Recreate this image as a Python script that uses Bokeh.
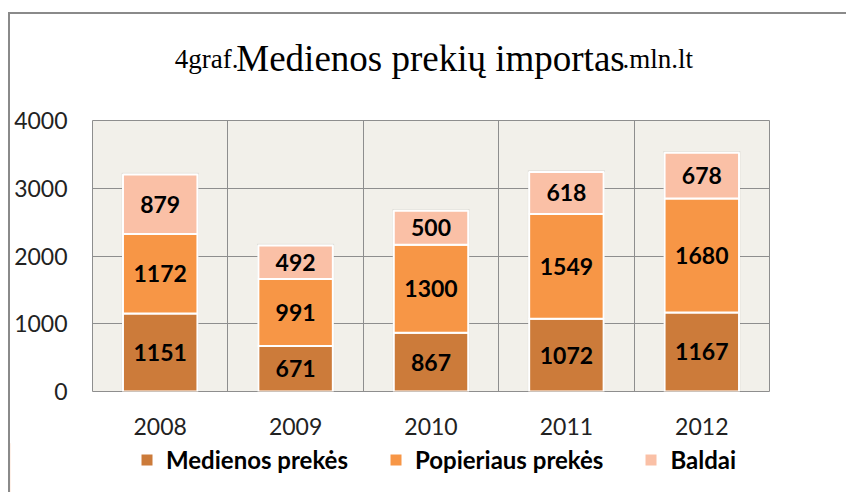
import numpy as np
from bokeh.plotting import figure
from bokeh.models import (ColumnDataSource, Range1d, FixedTicker, Legend, LegendItem)
from bokeh.core.properties import value
from bokeh.embed import file_html
from bokeh.resources import INLINE

# ---- data ----
years = ["2008", "2009", "2010", "2011", "2012"]
medienos = [1151, 671, 867, 1072, 1167]
popieriaus = [1172, 991, 1300, 1549, 1680]
baldai = [879, 492, 500, 618, 678]
series_names = ["Medienos prekės", "Popieriaus prekės", "Baldai"]
y_ticks = [0, 1000, 2000, 3000, 4000]
title_parts = ["4graf.", "Medienos prekių importas", ".mln.lt"]

colors = ["#CC7B3A", "#F79646", "#FAC0A6"]
FONT = "Lato"
TFONT = "Liberation Serif"
W = 838
BORDER = "2px solid #8A8A8A"


def bare(fig):
    fig.xgrid.visible = False
    fig.ygrid.visible = False
    return fig


# ---- title strip ----
TH = 92
tf = bare(figure(width=W, height=TH, x_range=Range1d(0, W), y_range=Range1d(TH, 0),
                 output_backend="svg", toolbar_location=None,
                 x_axis_type=None, y_axis_type=None, min_border=0,
                 outline_line_color=None, background_fill_color="white",
                 border_fill_color="white"))
tf.styles = {"margin-top": "12px", "margin-left": "8px",
             "border-top": BORDER, "border-left": BORDER}
big_c, big_w, base_y = 420, 384, 44
tf.text(x=[big_c], y=[base_y], text=[title_parts[1]], text_align=value("center"),
        text_baseline=value("alphabetic"), text_font=value(TFONT),
        text_font_size=value("37px"), text_color="#000000")
tf.text(x=[big_c - big_w / 2], y=[base_y], text=[title_parts[0]],
        text_align=value("right"), text_baseline=value("alphabetic"),
        text_font=value(TFONT), text_font_size=value("27px"), text_color="#000000")
tf.text(x=[big_c + big_w / 2], y=[base_y], text=[title_parts[2]],
        text_align=value("left"), text_baseline=value("alphabetic"),
        text_font=value(TFONT), text_font_size=value("27px"), text_color="#000000")

# ---- main chart ----
x = list(range(len(years)))
src = ColumnDataSource(dict(x=x, m=medienos, pp=popieriaus, b=baldai))

PH = 339
p = figure(width=W, height=PH,
           x_range=Range1d(-0.5, len(years) - 0.5),
           y_range=Range1d(y_ticks[0], y_ticks[-1]),
           output_backend="svg", toolbar_location=None,
           min_border_left=82, min_border_right=79,
           min_border_top=16, min_border_bottom=52,
           background_fill_color="#F2F0EA", border_fill_color="white",
           outline_line_color="#8E8E8E", outline_line_width=1)
p.styles = {"margin-left": "8px", "border-left": BORDER}

p.xaxis.ticker = FixedTicker(ticks=x)
p.xaxis.major_label_overrides = {i: y for i, y in enumerate(years)}
p.yaxis.ticker = FixedTicker(ticks=y_ticks)
for ax in (p.xaxis, p.yaxis):
    ax.axis_line_color = None
    ax.major_tick_line_color = None
    ax.minor_tick_line_color = None
    ax.major_tick_out = 0
    ax.major_tick_in = 0
    ax.major_label_text_font = FONT
    ax.major_label_text_font_size = "23px"
    ax.major_label_text_color = "#222222"
p.xaxis.major_label_standoff = 26
p.yaxis.major_label_standoff = 25

p.xgrid.ticker = FixedTicker(ticks=[i + 0.5 for i in x[:-1]])
p.xgrid.grid_line_color = "#8E8E8E"
p.ygrid.grid_line_color = "#8E8E8E"

# soft shadow behind bars
totals = np.array(medienos) + np.array(popieriaus) + np.array(baldai)
sh = ColumnDataSource(dict(x=x, top=totals + 25))
p.vbar(x="x", top="top", bottom=0, width=0.57, source=sh,
       fill_color="#000000", fill_alpha=0.07, line_color=None)

rs = p.vbar_stack(["m", "pp", "b"], x="x", width=0.55, source=src,
                  fill_color=colors, line_color="white", line_width=2)

m = np.array(medienos); pp = np.array(popieriaus); b = np.array(baldai)
lx, ly, lt = [], [], []
base = np.zeros(len(x))
for vals in (m, pp, b):
    for i in range(len(x)):
        lx.append(x[i]); ly.append(base[i] + vals[i] / 2); lt.append(str(vals[i]))
    base = base + vals
lsrc = ColumnDataSource(dict(x=lx, y=ly, t=lt))
p.text(x="x", y="y", text="t", source=lsrc, text_align=value("center"),
       text_baseline=value("middle"), text_font=value(FONT),
       text_font_style=value("bold"), text_font_size=value("23px"),
       text_color="#000000")

# ---- legend strip (swatch renderers sit outside the visible range) ----
LH = 494 - 14 - TH - PH
lf = bare(figure(width=W, height=LH, x_range=Range1d(0, 1), y_range=Range1d(0, 1),
                 output_backend="svg", toolbar_location=None,
                 x_axis_type=None, y_axis_type=None, min_border=0,
                 outline_line_color=None, background_fill_color="white",
                 border_fill_color="white"))
lf.styles = {"margin-left": "8px", "border-left": BORDER}
lrs = []
for c in colors:
    lrs.append(lf.vbar(x=[-5], top=[1], width=0.1, fill_color=c,
                       line_color="#FFFFFF", line_width=1))
legend = Legend(items=[LegendItem(label=n, renderers=[r]) for n, r in zip(series_names, lrs)],
                location=(129, 18), orientation="horizontal",
                spacing=40, label_standoff=12, glyph_width=15, glyph_height=15,
                padding=0, margin=0, border_line_color=None,
                background_fill_alpha=0, label_text_font=FONT,
                label_text_font_style="bold", label_text_font_size="24px",
                label_text_color="#000000")
lf.add_layout(legend, "center")

open("out.html", "w").write(file_html([tf, p, lf], INLINE))
